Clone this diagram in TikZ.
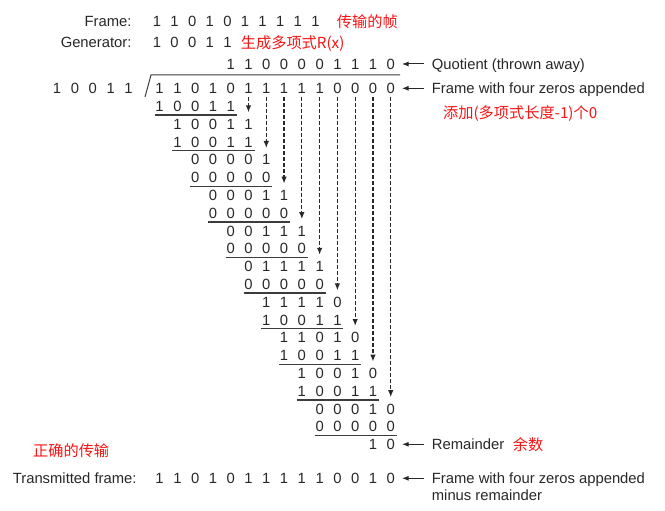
\documentclass[tikz,border=0pt]{standalone}
\usepackage{fontspec}
\setmainfont{Liberation Sans}
\newfontfamily\cjk{Noto Sans CJK SC}
\usetikzlibrary{arrows.meta}
\definecolor{ink}{RGB}{40,40,40}
\definecolor{lin}{RGB}{60,60,60}
\definecolor{cred}{RGB}{250,20,20}
\def\cx{159.6}
\def\dx{17.78}
\def\ry{88.3}
\def\dy{17.8}
\newcommand\drow[3]{%
  \foreach \dd [count=\k from 0] in {#3}{%
    \node[dig] (r#1-\k) at ({\cx+(#2+\k)*\dx},{\ry+#1*\dy}) {\dd};}}
\newcommand\freerow[5]{%
  \foreach \dd [count=\k from 0] in {#5}{%
    \node[dig] (#1-\k) at ({#2+\k*#3},#4) {\dd};}}
\newcommand\uline[1]{%
  \draw[ul] ([shift={(-5,9)}]r#1-0.center) -- ([shift={(6,9)}]r#1-4.center);}
\begin{document}
\begin{tikzpicture}[x=1pt,y=-1pt,
  dig/.style={inner sep=0pt,text height=10.6pt,text depth=0pt,text=ink,
    font=\fontsize{14.8}{17}\selectfont},
  labW/.style={inner sep=0pt,anchor=base west,text=ink,font=\fontsize{14.8}{17}\selectfont},
  labE/.style={inner sep=0pt,anchor=base east,text=ink,font=\fontsize{14.8}{17}\selectfont},
  redlab/.style={inner sep=0pt,anchor=base west,text=cred,font=\cjk\fontsize{15.2}{18}\selectfont},
  ul/.style={draw=lin,line width=1.3pt},
  bar/.style={draw=lin,line width=1pt},
  harr/.style={draw=ink,line width=1pt,-{Latex[length=6.5pt,width=5pt]}},
  darr/.style={draw=ink,line width=1.3pt,dash pattern=on 4pt off 2pt,
    -{Latex[length=7pt,width=5.5pt]}}]
\fill[white] (0,0) rectangle (665,511);
\useasboundingbox (0,0) rectangle (665,511);

% header
\node[labE] (lframe) at (131.7,26.8) {Frame:};
\node[labE] (lgen) at (131.7,47.8) {Generator:};
\freerow{f}{157}{17.6}{21.5}{1,1,0,1,0,1,1,1,1,1}
\freerow{g}{157}{17.6}{42.5}{1,0,0,1,1}
\node[redlab] (c1) at (336.7,27.2) {传输的帧};
\node[redlab] (c2) at (240.7,48.2) {生成多项式R(x)};

% quotient and divisor
\freerow{q}{\cx+4*\dx}{\dx}{64}{1,1,0,0,0,0,1,1,1,0}
\freerow{dv}{57}{17.9}{\ry}{1,0,0,1,1}
\draw[bar] (145,97) -- (151,75) -- (400,75);

% long division rows
\drow{0}{0}{1,1,0,1,0,1,1,1,1,1,0,0,0,0}
\drow{1}{0}{1,0,0,1,1}
\drow{2}{1}{1,0,0,1,1}
\drow{3}{1}{1,0,0,1,1}
\drow{4}{2}{0,0,0,0,1}
\drow{5}{2}{0,0,0,0,0}
\drow{6}{3}{0,0,0,1,1}
\drow{7}{3}{0,0,0,0,0}
\drow{8}{4}{0,0,1,1,1}
\drow{9}{4}{0,0,0,0,0}
\drow{10}{5}{0,1,1,1,1}
\drow{11}{5}{0,0,0,0,0}
\drow{12}{6}{1,1,1,1,0}
\drow{13}{6}{1,0,0,1,1}
\drow{14}{7}{1,1,0,1,0}
\drow{15}{7}{1,0,0,1,1}
\drow{16}{8}{1,0,0,1,0}
\drow{17}{8}{1,0,0,1,1}
\drow{18}{9}{0,0,0,1,0}
\drow{19}{9}{0,0,0,0,0}
\drow{20}{12}{1,0}
\foreach \r in {1,3,...,19}{\uline{\r}}

% bring-down arrows
\foreach \C in {5,...,13}{%
  \coordinate (e\C) at ({\cx+\C*\dx},{\ry+(2*(\C-4))*\dy-11.5});
  \draw[darr] ([yshift=-3pt]r0-\C.south) -- (e\C);}

% transmitted frame
\freerow{t}{\cx}{\dx}{478.3}{1,1,0,1,0,1,1,1,1,1,0,0,1,0}
\node[labE] (ltrans) at (136.7,483.6) {Transmitted frame:};

% right labels
\node[labW] (lquot) at (431.7,69.3) {Quotient (thrown away)};
\node[labW] (lfr) at (431.7,93.6) {Frame with four zeros appended};
\node[redlab] (c3) at (443,119) {添加(多项式长度-1)个0};
\node[labW] (lrem) at (431.7,449.8) {Remainder};
\node[redlab] (c4) at (512.7,450.2) {余数};
\node[labW] (ltx) at (431.7,483.6) {Frame with four zeros appended};
\node[labW] (ltx2) at (431.7,500.3) {minus remainder};
\node[redlab] (c5) at (33,456.7) {正确的传输};

\draw[harr] ([xshift=29pt]q-9.east) -- ([xshift=7pt]q-9.east);
\draw[harr] ([xshift=29pt]r0-13.east) -- ([xshift=7pt]r0-13.east);
\draw[harr] ([xshift=29pt]r20-1.east) -- ([xshift=7pt]r20-1.east);
\draw[harr] ([xshift=29pt]t-13.east) -- ([xshift=7pt]t-13.east);
\end{tikzpicture}
\end{document}
